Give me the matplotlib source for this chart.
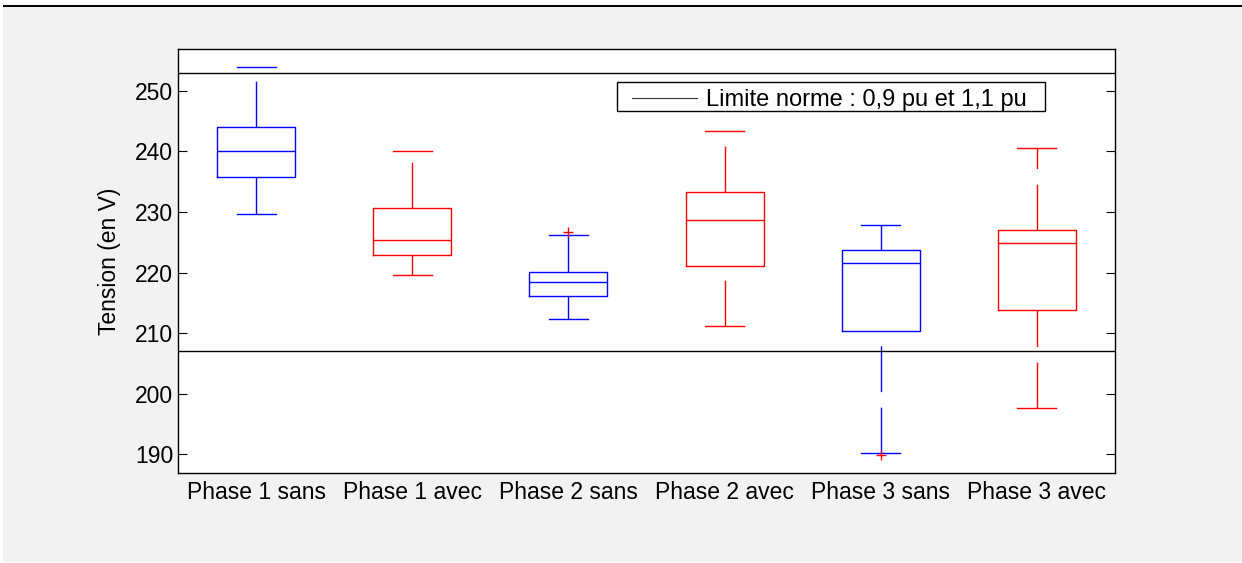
import matplotlib
matplotlib.use("Agg")
import matplotlib.pyplot as plt
from matplotlib.patches import Rectangle

# Donnees (tension en V)
categories = ["Phase 1 sans", "Phase 1 avec", "Phase 2 sans",
              "Phase 2 avec", "Phase 3 sans", "Phase 3 avec"]
q1 = [235.8, 222.9, 216.1, 221.0, 210.3, 213.8]
mediane = [240.0, 225.4, 218.5, 228.7, 221.5, 224.8]
q3 = [244.0, 230.6, 220.1, 233.3, 223.7, 227.0]
moustache_bas = [229.7, 219.6, 212.4, 211.2, 190.2, 197.7]
moustache_haut = [253.9, 240.0, 226.2, 243.3, 227.9, 240.5]
aberrants = [[], [], [226.7], [], [189.8], []]
couleurs = ["blue", "red", "blue", "red", "blue", "red"]

limite_basse = 207   # 0,9 pu
limite_haute = 253   # 1,1 pu

plt.rcParams["font.family"] = ["Liberation Sans", "DejaVu Sans"]
plt.rcParams["font.size"] = 16.5

fig = plt.figure(figsize=(12.42, 5.63), dpi=100)
fig.patch.set_facecolor("white")

# fond gris et trait noir en haut
fig.patches.append(Rectangle((3 / 1242, 1 - 562 / 563), 1, (562 - 7.3) / 563,
                             transform=fig.transFigure, facecolor="#f2f2f2",
                             edgecolor="none", zorder=-10))
fig.patches.append(Rectangle((3 / 1242, 1 - 7.3 / 563), 1, 2.8 / 563,
                             transform=fig.transFigure, facecolor="black",
                             edgecolor="none", zorder=-9))

ax = fig.add_axes([178 / 1242, 1 - 473 / 563, 937 / 1242, 424 / 563])

stats = []
for i in range(len(categories)):
    stats.append({
        "q1": q1[i], "med": mediane[i], "q3": q3[i],
        "whislo": moustache_bas[i], "whishi": moustache_haut[i],
        "fliers": aberrants[i], "label": categories[i],
    })

lw = 1.0
bp = ax.bxp(stats, positions=range(1, 7), widths=0.5, capwidths=0.25,
            showfliers=True, patch_artist=False,
            flierprops=dict(marker="+", markeredgecolor="red",
                            markersize=7, linestyle="none"))

for i, c in enumerate(couleurs):
    bp["boxes"][i].set_color(c)
    bp["boxes"][i].set_linewidth(lw)
    bp["medians"][i].set_color(c)
    bp["medians"][i].set_linewidth(lw)
    for k in (2 * i, 2 * i + 1):
        w = bp["whiskers"][k]
        w.set_color(c)
        w.set_linewidth(lw)
        w.set_linestyle((0, (33 / lw, 11.2 / lw)))
        bp["caps"][k].set_color(c)
        bp["caps"][k].set_linewidth(lw)
    # moustache basse tracee depuis l'extremite vers la boite
    yd = bp["whiskers"][2 * i].get_ydata()
    bp["whiskers"][2 * i].set_ydata(list(yd)[::-1])

ax.axhline(limite_basse, color="black", linewidth=1.0)
ax.axhline(limite_haute, color="black", linewidth=1.0,
           label="Limite norme : 0,9 pu et 1,1 pu")

ax.set_xlim(0.5, 6.5)
ax.set_ylim(186.9, 256.9)
ax.set_yticks([190, 200, 210, 220, 230, 240, 250])
ax.set_xticks(range(1, 7))
ax.set_xticklabels(categories)
ax.tick_params(axis="y", direction="in", length=6.5, right=True, pad=3.5)
ax.tick_params(axis="x", length=0, pad=6)
ax.set_ylabel("Tension (en V)", labelpad=10)

for s in ax.spines.values():
    s.set_linewidth(1.0)

# cadre de legende dessine a part (marges facon MATLAB)
ax.add_patch(Rectangle((0.4685, 0.8545), 0.925 - 0.4685, 0.9215 - 0.8545,
                       transform=ax.transAxes, facecolor="white",
                       edgecolor="black", linewidth=1.0, zorder=4))
leg = ax.legend(loc="center left", bbox_to_anchor=(0.4845, 0.879),
                borderaxespad=0, borderpad=0, frameon=False, fontsize=17,
                handlelength=2.75, handletextpad=0.38)
leg.set_zorder(5)
leg.get_lines()[0].set_linewidth(0.8)
leg.get_lines()[0].set_color("#333333")

fig.savefig("out.png", dpi=100)
